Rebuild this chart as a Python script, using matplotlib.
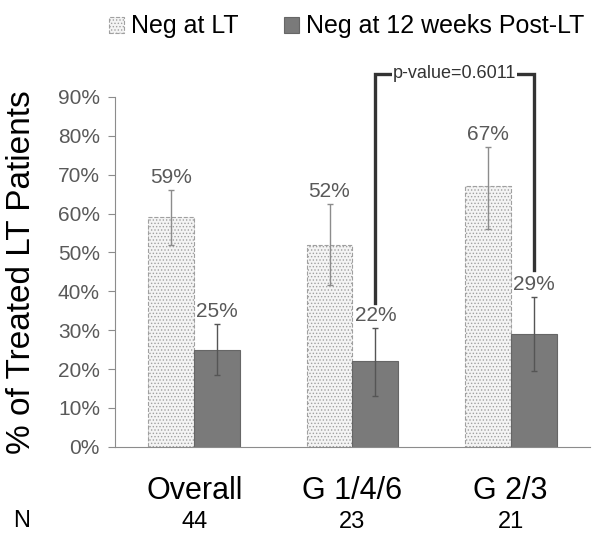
import numpy as np
import matplotlib
matplotlib.use('Agg')
import matplotlib.pyplot as plt

plt.rcParams['font.family'] = ['Liberation Sans', 'DejaVu Sans']
plt.rcParams['hatch.color'] = '#c8c8c8'
plt.rcParams['hatch.linewidth'] = 0.6

groups = ['Overall', 'G 1/4/6', 'G 2/3']
n_values = ['44', '23', '21']
neg_lt = [59, 52, 67]
neg_lt_err_lo = [7, 10.5, 11]
neg_lt_err_hi = [7, 10.5, 10]
neg_12wk = [25, 22, 29]
neg_12wk_err_lo = [6.5, 9, 9.5]
neg_12wk_err_hi = [6.5, 8.5, 9.5]
p_text = 'p-value=0.6011'

fig = plt.figure(figsize=(6.03, 5.41), dpi=100)
ax = fig.add_axes([0.191, 0.174, 0.787, 0.647])

x = np.arange(len(groups))
w = 0.29
gray_txt = '#595959'

ax.bar(x - w / 2, neg_lt, width=w, color='#f4f4f4', edgecolor='#a0a0a0',
       linestyle='--', linewidth=0.8, hatch='.....', label='Neg at LT')
ax.bar(x + w / 2, neg_12wk, width=w, color='#7a7a7a', edgecolor='#666666',
       linewidth=0.8, label='Neg at 12 weeks Post-LT')
ax.errorbar(x - w / 2, neg_lt, yerr=[neg_lt_err_lo, neg_lt_err_hi], fmt='none',
            ecolor='#8c8c8c', elinewidth=1, capsize=2, capthick=1)
ax.errorbar(x + w / 2, neg_12wk, yerr=[neg_12wk_err_lo, neg_12wk_err_hi], fmt='none',
            ecolor='#555555', elinewidth=1, capsize=2, capthick=1)

for i in range(len(groups)):
    ax.text(x[i] - w / 2, neg_lt[i] + neg_lt_err_hi[i] + 0.8, f'{neg_lt[i]}%',
            ha='center', va='bottom', fontsize=15, color=gray_txt)
    ax.text(x[i] + w / 2, neg_12wk[i] + neg_12wk_err_hi[i] + 0.8, f'{neg_12wk[i]}%',
            ha='center', va='bottom', fontsize=15, color=gray_txt)

# p-value bracket between dark bars of G 1/4/6 and G 2/3
x1 = x[1] + w / 2
x2 = x[2] + w / 2
ytop = 96
ax.plot([x1, x1, x2, x2], [37, ytop, ytop, 45.5], color='#333333', lw=2.4,
        clip_on=False, solid_joinstyle='miter')
ax.text((x1 + x2) / 2, ytop, p_text, ha='center', va='center', fontsize=13,
        color='#333333', bbox=dict(facecolor='white', edgecolor='none', pad=0.5),
        clip_on=False)

ax.set_xlim(-0.5, 2.5)
ax.set_ylim(0, 90)
ax.set_yticks(np.arange(0, 91, 10))
ax.set_yticklabels([f'{v}%' for v in range(0, 91, 10)], fontsize=15, color=gray_txt)
ax.set_xticks(x)
ax.set_xticklabels(groups, fontsize=22)
ax.tick_params(axis='x', length=0, pad=21)
ax.tick_params(axis='y', length=5, color='#8c8c8c', direction='out', pad=6)
for s in ['top', 'right']:
    ax.spines[s].set_visible(False)
ax.spines['left'].set_color('#8c8c8c')
ax.spines['bottom'].set_color('#8c8c8c')
ax.set_ylabel('% of Treated LT Patients', fontsize=24)
ax.yaxis.set_label_coords(-0.165, 0.5)

# N row
for i in range(len(groups)):
    ax.annotate(n_values[i], xy=(x[i], 0), xycoords='data', xytext=(0, -54),
                textcoords='offset points', ha='center', va='center', fontsize=17)
fig.text(0.035, 0.037, 'N', ha='center', va='center', fontsize=17)

fig.legend(loc='upper center', bbox_to_anchor=(0.575, 1.015), ncol=2, frameon=False,
           fontsize=18, handlelength=0.6, handleheight=0.6, handletextpad=0.3,
           columnspacing=1.8)

fig.savefig('out.png', dpi=100)
